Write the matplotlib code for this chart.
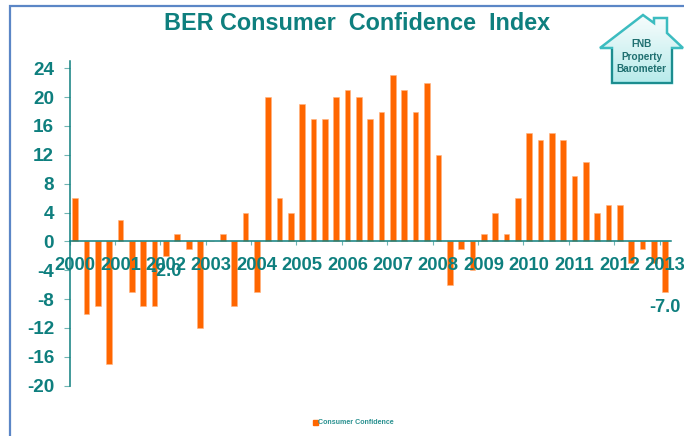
import numpy as np
import matplotlib
matplotlib.use("Agg")
import matplotlib.pyplot as plt
from matplotlib.lines import Line2D
from matplotlib.patches import Polygon, Rectangle
from matplotlib.transforms import ScaledTranslation

plt.rcParams['font.family'] = ['Liberation Sans', 'DejaVu Sans']
plt.rcParams['axes.unicode_minus'] = False

series_name = "Consumer Confidence"
title = "BER Consumer  Confidence  Index"
years = [2000, 2001, 2002, 2003, 2004, 2005, 2006, 2007, 2008, 2009, 2010, 2011, 2012, 2013]
values = [6, -10, -9, -17,
          3, -7, -9, -9,
          -2, 1, -1, -12,
          0, 1, -9, 4,
          -7, 20, 6, 4,
          19, 17, 17, 20,
          21, 20, 17, 18,
          23, 21, 18, 22,
          12, -6, -1, -4,
          1, 4, 1, 6,
          15, 14, 15, 14,
          9, 11, 4, 5,
          5, -3, -1, -3,
          -7]
y_ticks = [24, 20, 16, 12, 8, 4, 0, -4, -8, -12, -16, -20]
labelled = {8: "-2.0", 52: "-7.0"}

TEAL = "#0E7F7E"
ORANGE = "#FF6600"
W, H = 684, 436

fig = plt.figure(figsize=(W / 100, H / 100), dpi=100, facecolor="white")

def fx(p): return p / W
def fy(p): return 1 - p / H

# slide frame
fig.add_artist(Line2D([fx(10), fx(10), fx(684)], [fy(436), fy(6), fy(6)],
                      color="#5B86C6", lw=1.6, solid_joinstyle="miter"))

L, R, T, B = 69.5, 671, 61, 385.7
ax = fig.add_axes([fx(L), fy(B), fx(R - L), (B - T) / H])
ax.set_facecolor("none")

x = np.arange(len(values)) + 0.5
ax.bar(x, values, width=0.5, color=ORANGE, edgecolor="#FFB27F", linewidth=0.4, label=series_name)

ax.set_xlim(0, len(values))
ax.set_ylim(-20, 25)
for s in ("top", "right"):
    ax.spines[s].set_visible(False)
ax.spines["left"].set_color(TEAL)
ax.spines["left"].set_linewidth(1.1)
ax.spines["bottom"].set_position(("data", 0))
ax.spines["bottom"].set_color(TEAL)
ax.spines["bottom"].set_linewidth(1.1)

ax.set_yticks(y_ticks)
ax.set_xticks(np.arange(len(years)) * 4)
ax.set_xticklabels([str(y) for y in years])
ax.tick_params(axis="y", direction="out", length=4, width=0.8, color="#6FB5B3", pad=7,
               labelsize=13.6, labelcolor=TEAL)
ax.tick_params(axis="x", direction="out", length=3, width=0.8, color="#6FB5B3", pad=8.3,
               labelsize=13.2, labelcolor=TEAL)
shift = ScaledTranslation(5.5 / 100, 0, fig.dpi_scale_trans)
for t in ax.get_xticklabels():
    t.set_transform(t.get_transform() + shift)
    t.set_clip_on(False)
for t in ax.get_xticklabels() + ax.get_yticklabels():
    t.set_fontweight("bold")

for i, txt in labelled.items():
    ax.annotate(txt, (x[i], values[i]), xytext=(0, -16 * 0.72), textcoords="offset points",
                ha="center", va="center", color=TEAL, fontsize=13, fontweight="bold")

fig.text(fx(357.5), fy(24), title, ha="center", va="center", color=TEAL, fontsize=16.8, fontweight="bold")

# legend
fig.add_artist(Rectangle((fx(313), fy(424.5)), 5 / W, 5 / H, color=ORANGE, transform=fig.transFigure))
fig.text(fx(318), fy(422.3), series_name, ha="left", va="center", color="#2A9190", fontsize=5.1, fontweight="bold")

# FNB Property Barometer badge
logo = fig.add_axes([0, 0, 1, 1], facecolor="none")
logo.set_xlim(0, W); logo.set_ylim(H, 0); logo.axis("off")
house = [(600, 48), (643, 15), (654, 23), (654, 18), (667, 18), (667, 33), (683, 48),
         (672, 48), (672, 83), (612, 83), (612, 48)]
grad = np.linspace(0, 1, 64)[:, None]
cols = np.zeros((64, 1, 3))
top, bot = np.array([0.97, 0.99, 0.99]), np.array([0.72, 0.92, 0.92])
cols[:, 0] = top * (1 - grad) + bot * grad
im = logo.imshow(cols, extent=(600, 683, 83, 15), aspect="auto", zorder=2)
poly = Polygon(house, closed=True, facecolor="none", edgecolor="#3CBCC0", lw=1.8, joinstyle="miter", zorder=3)
logo.add_patch(poly)
im.set_clip_path(poly)
logo.plot([612, 612, 672, 672], [50, 83, 83, 50], color="#1C8C8E", lw=1.4, zorder=3.5)
logo.set_xlim(0, W); logo.set_ylim(H, 0)
for ty, s in ((44, "FNB"), (57, "Property"), (68.5, "Barometer")):
    logo.text(641.5, ty, s, ha="center", va="center", color="#1F6F70", fontsize=7.2, fontweight="bold", zorder=4)

fig.savefig("out.png", dpi=100)
